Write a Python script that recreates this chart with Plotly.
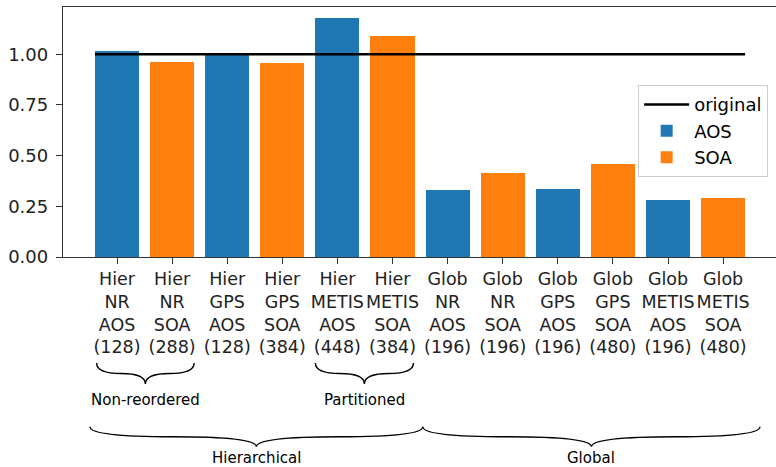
import plotly.graph_objects as go

# ---- data ----
categories = [
    "Hier<br>NR<br>AOS<br>(128)", "Hier<br>NR<br>SOA<br>(288)",
    "Hier<br>GPS<br>AOS<br>(128)", "Hier<br>GPS<br>SOA<br>(384)",
    "Hier<br>METIS<br>AOS<br>(448)", "Hier<br>METIS<br>SOA<br>(384)",
    "Glob<br>NR<br>AOS<br>(196)", "Glob<br>NR<br>SOA<br>(196)",
    "Glob<br>GPS<br>AOS<br>(196)", "Glob<br>GPS<br>SOA<br>(480)",
    "Glob<br>METIS<br>AOS<br>(196)", "Glob<br>METIS<br>SOA<br>(480)",
]
aos_values = [1.015, 1.005, 1.18, 0.332, 0.337, 0.283]
soa_values = [0.962, 0.955, 1.092, 0.414, 0.46, 0.29]
original_value = 1.0
y_ticks = [0.0, 0.25, 0.5, 0.75, 1.0]

# ---- layout helpers ----
BAR_W = 0.8
n = len(categories)
aos_x = list(range(0, n, 2))
soa_x = list(range(1, n, 2))

TOP_M, BOT_M, H = 7, 210, 467
PLOT_H = H - TOP_M - BOT_M
AXIS_Y = H - BOT_M


def py(p):
    """pixel row -> paper y"""
    return (AXIS_Y - p) / PLOT_H


def brace(x0, x1, top, mid, tip):
    xc = (x0 + x1) / 2
    h = (xc - x0)
    t, m, b = py(top), py(mid), py(tip)
    a = x0 + h * 0.5
    c = x1 - h * 0.5
    return (f"M {x0},{t} Q {x0},{m} {a},{m} Q {xc},{m} {xc},{b} "
            f"Q {xc},{m} {c},{m} Q {x1},{m} {x1},{t}")


fig = go.Figure()
fig.add_trace(go.Scatter(x=[0 - BAR_W / 2, n - 1 + BAR_W / 2],
                         y=[original_value, original_value],
                         mode="lines", name="original",
                         line=dict(color="black", width=2.5)))
fig.add_trace(go.Bar(x=aos_x, y=aos_values, width=BAR_W, name="AOS",
                     marker=dict(color="#1f77b4", line=dict(width=0))))
fig.add_trace(go.Bar(x=soa_x, y=soa_values, width=BAR_W, name="SOA",
                     marker=dict(color="#ff7f0e", line=dict(width=0))))

braces = [
    (-0.37, 1.40, 363, 373.5, 384, "Non-reordered", 400),
    (3.60, 5.38, 363, 373.5, 384, "Partitioned", 400),
    (-0.49, 5.55, 426.7, 436.7, 446.7, "Hierarchical", 458),
    (5.55, 11.67, 426.7, 436.7, 446.7, "Global", 458),
]
shapes = []
annotations = []
for x0, x1, top, mid, tip, label, ly in braces:
    shapes.append(dict(type="path", xref="x", yref="paper",
                       path=brace(x0, x1, top, mid, tip),
                       line=dict(color="black", width=1.4)))
    annotations.append(dict(x=(x0 + x1) / 2, y=py(ly), xref="x", yref="paper",
                            text=label, showarrow=False, xanchor="center",
                            yanchor="middle",
                            font=dict(size=15, color="black",
                                      family="DejaVu Sans")))

fig.update_layout(
    width=776, height=H,
    margin=dict(l=63, r=0, t=TOP_M, b=BOT_M, autoexpand=False),
    plot_bgcolor="white", paper_bgcolor="white",
    barmode="overlay", bargap=0,
    font=dict(family="DejaVu Sans", size=18, color="black"),
    showlegend=True,
    legend=dict(x=0.989, y=0.687, xanchor="right", yanchor="top",
                bgcolor="rgba(255,255,255,0.8)", bordercolor="#cccccc",
                borderwidth=1, font=dict(size=18, color="black"),
                traceorder="normal", itemwidth=45,
                tracegroupgap=0),
    shapes=shapes, annotations=annotations,
    xaxis=dict(range=[-0.98, 11.96], tickmode="array",
               tickvals=list(range(n)), ticktext=categories, tickangle=0,
               automargin=False,
               ticks="outside", ticklen=6, tickwidth=1.2, tickcolor="#333",
               showline=True, linecolor="#333", linewidth=1.3, mirror=True,
               showgrid=False, zeroline=False,
               tickfont=dict(size=17.5, color="#222")),
    yaxis=dict(range=[0, 1.233], tickmode="array", tickvals=y_ticks,
               tickformat=".2f", ticks="outside", ticklen=6, tickwidth=1.2,
               ticklabelstandoff=4,
               automargin=False,
               tickcolor="#333", showline=True, linecolor="#333",
               linewidth=1.3, showgrid=False, zeroline=False,
               tickfont=dict(size=18, color="#222")),
)

fig.write_html(
    "out.html",
    config={"displayModeBar": False},
    post_script="document.body.style.margin='0';document.body.style.padding='0';",
)
